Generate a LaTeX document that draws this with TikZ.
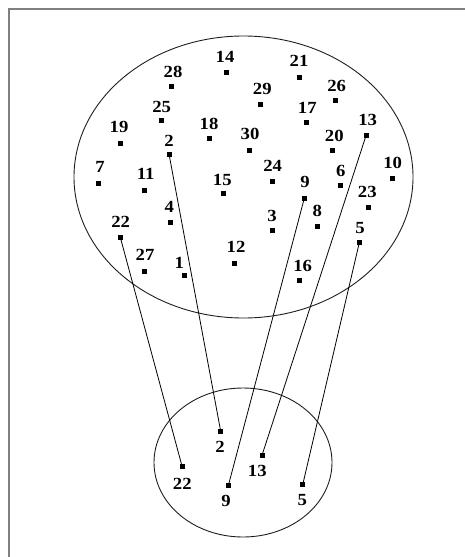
\documentclass[tikz,border=0pt]{standalone}
\usepackage{fontspec}
\setmainfont{Liberation Serif}
\definecolor{frame}{RGB}{128,128,128}
\definecolor{ink}{RGB}{30,30,30}
\usepackage{tikz}
\usetikzlibrary{positioning}

\begin{document}
\begin{tikzpicture}[x=1pt, y=-1pt,
    pt/.style={fill=black, inner sep=0pt, minimum size=5pt},
    lbl/.style={font=\fontsize{17}{17}\selectfont\bfseries, inner sep=0pt, xscale=1.1}]
        \useasboundingbox (0,0) rectangle (465,557);
        \draw[frame, line width=2pt] (465,9) -- (9,9) -- (9,557);
        % sets
        \draw[ink, line width=0.9pt] (243.5,177) ellipse (169.5 and 141);
        \draw[ink, line width=0.9pt] (243,462.5) ellipse (89 and 74.5);
        % points of the large set
        \foreach \n/\x/\y/\lx/\ly in {14/226.7/72.7/225/57.3, 28/171.7/86.7/173/71.7,
            25/161.7/120.7/161.7/107, 19/120/143.3/119/127, 18/209/138.3/209/124,
            2/169/154/169/141, 21/299/77/299/60.7, 29/260.3/104/262.3/89.3,
            26/335/100.7/336.7/86, 17/306.7/122.3/307.3/107.7, 13/366/135.7/367.7/120,
            30/249/150.7/250/134.3, 20/332.3/150.7/334.3/136, 7/98.3/183/100/167.3,
            11/144.7/190/145.7/174.3, 15/223/193.7/222.3/180, 4/170/222/169.3/206.7,
            22/120.3/237.3/120.7/221.7, 27/144.7/271/145/255, 1/184.3/275.3/179.3/262.7,
            12/234.5/263.2/236/247.3, 24/272/181/272.7/166, 6/340.3/185.3/340.7/170.7,
            10/392.7/178/392.7/162.7, 9/304.3/198.3/305/181.7, 23/368.3/207/367.3/192.3,
            3/272/230.7/272/216, 8/317/226.3/317.3/210.7, 5/359.3/242.7/360/228.3,
            16/299/280.7/302.7/266}
        {
          \node[pt] (b\n) at (\x,\y) {};
          \node[lbl] (bl\n) at (\lx,\ly) {\n};
        }
        % points of the small set
        \foreach \n/\x/\y/\lx/\ly in {2/220.7/431.3/220/446.7, 13/262/455.3/257.3/471,
            22/182/466/182.3/484, 9/228.3/485.7/226/500.7, 5/302.7/484.7/302.3/500}
        {
          \node[pt] (s\n) at (\x,\y) {};
          \node[lbl] (sl\n) at (\lx,\ly) {\n};
        }
        % mapping
        \foreach \n in {22,2,9,13,5}
          \draw[black, line width=0.8pt] (b\n.center) -- (s\n.center);
      \end{tikzpicture}
\end{document}
